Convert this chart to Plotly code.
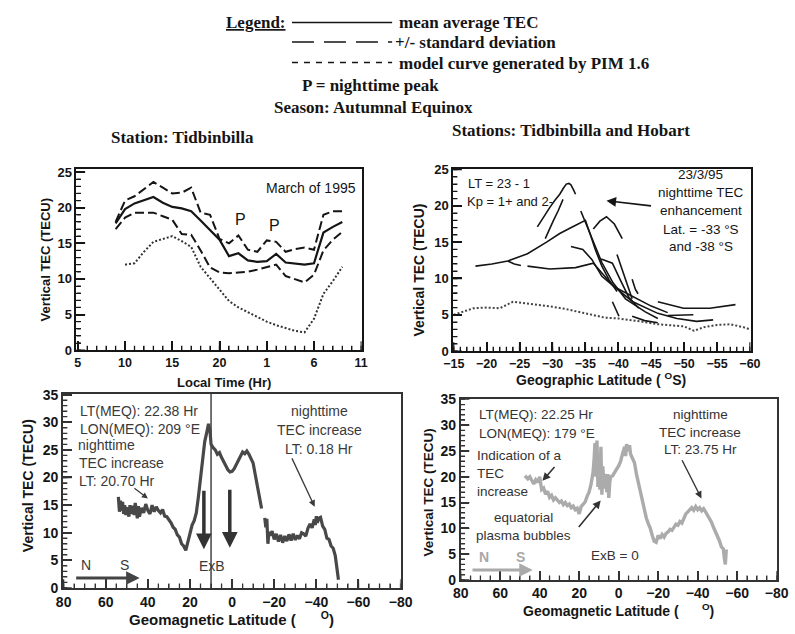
import math
import plotly.graph_objects as go

W, H = 795, 634

# ---------------- Panel 1: Tidbinbilla, March 1995 ----------------
lt_hours = list(range(9, 34))
tec_mean = [17.8, 19.8, 20.6, 21.0, 21.5, 20.7, 20.1, 19.9, 19.5, 18.2, 16.9, 15.5, 13.2,
            13.6, 12.6, 12.4, 12.5, 13.5, 12.3, 12.1, 12.0, 12.2, 16.5, 17.3, 18.0]
tec_upper = [18.0, 21.0, 21.6, 22.6, 23.6, 22.8, 22.0, 22.1, 22.8, 19.3, 19.0, 15.6, 15.0,
             16.1, 14.1, 13.8, 15.4, 15.2, 13.8, 14.2, 14.4, 14.1, 19.0, 19.5, 19.5]
tec_lower = [17.0, 18.6, 19.3, 19.3, 19.3, 18.8, 18.3, 16.3, 16.2, 14.0, 11.6, 10.9, 10.8,
             10.9, 11.0, 11.3, 11.6, 12.0, 10.4, 10.0, 9.5, 10.6, 14.0, 15.5, 16.6]
model_hours = list(range(10, 34))
tec_model = [12.0, 12.2, 13.8, 15.2, 15.6, 16.0, 15.3, 14.5, 11.7, 10.1, 8.5, 6.9,
             6.0, 5.3, 4.7, 4.0, 3.5, 3.1, 2.7, 2.5, 4.4, 7.9, 9.7, 11.7]
lt_tick_alias = {"25": "1", "30": "6", "35": "11"}

# ---------------- Panel 2: Tidbinbilla and Hobart ----------------
model2_lat = [-15, -16.5, -18, -20, -22, -24, -26, -28, -30, -32, -34, -36, -38, -40,
              -42, -44, -46, -48, -50, -51.5, -53, -55, -57, -59, -60]
model2_tec = [5.0, 5.4, 5.9, 6.0, 5.9, 6.8, 6.6, 6.3, 6.1, 5.8, 5.4, 5.0, 4.6, 4.5,
              4.3, 4.0, 3.7, 3.5, 3.4, 2.8, 3.3, 3.6, 3.7, 3.3, 3.0]
seg_lat = [
    [-27.7, -28.6, -29.6, -30.4, -31.1, -31.7, -32.1, -32.5, -32.8, -33.2, -33.5],
    [-28.9, -29.5, -30.1, -30.9, -31.6],
    [-18.3, -20.8, -23.2, -26.2, -29.1, -31.1, -33.0, -35.0, -35.7, -36.5, -37.5, -38.6, -39.8],
    [-23.2, -24.2, -25.2],
    [-26.2, -29.6, -33.5, -36.2, -39.2, -42.2, -46.0, -48.9, -51.9, -54.4],
    [-36.2, -37.2, -38.2, -39.4, -40.6],
    [-34.3, -35.5, -36.5, -37.5, -39.2, -41.1, -44.1, -46.0],
    [-32.8, -34.6, -36.0, -37.5, -39.5, -42.0, -45.0, -47.5],
    [-37.4, -39.1, -40.3, -41.6, -43.1],
    [-39.8, -40.5, -41.1, -42.1],
    [-42.1, -42.6, -43.0],
    [-46.0, -49.9, -53.9, -57.8],
    [-47.5, -51.4],
    [-42.1, -44.0, -46.0],
    [-39.1, -39.6, -40.1],
]
seg_tec = [
    [17.1, 18.4, 19.8, 20.8, 21.6, 22.5, 23.0, 23.1, 22.9, 22.2, 21.6],
    [15.5, 16.8, 17.9, 19.4, 20.9],
    [11.7, 12.0, 12.4, 13.4, 15.0, 16.2, 17.1, 18.0, 16.2, 14.0, 11.7, 9.8, 8.2],
    [12.4, 12.0, 11.8],
    [11.7, 11.3, 11.5, 12.1, 9.0, 6.8, 5.2, 4.5, 4.1, 4.3],
    [16.8, 17.9, 18.5, 17.5, 15.5],
    [19.3, 16.6, 14.4, 12.2, 9.4, 7.2, 5.4, 4.5],
    [14.4, 14.0, 12.6, 10.3, 8.8, 7.6, 6.2, 5.3],
    [12.7, 12.1, 9.8, 7.4, 5.9],
    [13.3, 11.5, 9.9, 7.2],
    [9.9, 8.5, 7.9],
    [6.8, 5.9, 5.9, 6.4],
    [4.9, 5.0],
    [4.8, 4.2, 3.9],
    [6.8, 5.8, 4.8],
]

# ---------------- Panel 3: LON(MEQ) 209 E ----------------
meq_line_lat = 10
lat3 = [54, 53.5, 53, 52.5, 52, 51.5, 51, 50.5, 50, 49, 48.5, 48, 47, 46.5, 46, 45, 44.5, 44,
        43, 42, 41, 40, 39, 38, 37, 36, 35, 34, 33, 32, 31, 30, 29, 28, 27, 26, 25, 24, 23,
        22, 21, 20, 19, 18, 17, 16, 15, 14, 13, 12, 11.2, 10.5, 10, 9, 8, 7, 6, 5, 4, 3, 2,
        1, 0, -1, -2, -3, -4, -5, -6, -7, -8, -9, -10, -11, -12, -13, -14, -14.8, -15.5, -16,
        -16.5, -17, -17.5, -18, -19, -20, -21, -22, -23, -24, -25, -26, -27, -28, -29, -30,
        -31, -32, -33, -34, -35, -36, -37, -38, -39, -39.5, -40, -40.5, -41, -42, -43, -44,
        -45, -46, -47, -48, -49, -49.5, -50, -50.5]
tec3 = [16.5, 13.8, 15.8, 14.0, 15.6, 13.4, 15.0, 13.2, 14.6, 12.9, 15.0, 13.4, 14.9, 13.2,
        15.4, 12.6, 14.8, 12.9, 14.5, 13.6, 15.2, 14.0, 13.4, 15.0, 13.8, 14.7, 14.0, 13.6,
        14.2, 13.0, 12.9, 12.4, 11.8, 11.0, 10.6, 9.6, 9.2, 8.0, 7.6, 6.8, 8.4, 9.6, 11.4,
        12.2, 13.6, 16.5, 19.5, 23.0, 26.5, 28.2, 29.7, 28.5, 26.0, 25.4, 25.0, 24.2, 24.5,
        23.6, 22.8, 22.0, 21.4, 21.0, 21.1, 21.6, 22.4, 23.2, 24.0, 24.6, 24.3, 24.8, 24.2,
        23.4, 22.6, 20.5, 18.5, 16.0, 14.4, None, 12.7, 11.0, 12.5, 8.0, 10.2, 9.5, 10.3,
        8.8, 9.8, 8.4, 9.6, 8.2, 9.4, 8.5, 9.7, 8.6, 9.8, 8.7, 9.5, 8.9, 10.0, 9.8, 9.4,
        10.8, 11.6, 10.9, 12.4, 11.4, 13.0, 11.8, 12.6, 12.8, 11.2, 10.6, 9.0, 8.8, 7.6,
        7.2, 5.8, 4.5, 3.0, 1.5]

# ---------------- Panel 4: LON(MEQ) 179 E ----------------
lat4 = [47.5, 46, 45, 44, 43, 42, 41, 40, 39, 38, 37, 36, 35, 34, 33, 32, 31, 30, 29, 28, 27,
        26, 25, 24, 23, 22, 21, 20, 19, 18, 17, 16, 15, 14, 13, 12.5, 12, 11.5, 11, 10.5, 10,
        9.5, 9, 8.5, 8, 7.5, 7, 6.5, 6, 5.5, 5, 4.5, 4, 3, 2, 1, 0, -1, -2, -3, -3.5, -4, -5,
        -5.5, -6, -7, -8, -9, -10, -11, -12, -13, -14, -15, -16, -17, -18, -19, -20, -21, -22,
        -23, -24, -25, -26, -27, -28, -29, -30, -31, -32, -33, -34, -35, -36, -37, -38, -39,
        -40, -41, -42, -43, -44, -45, -46, -47, -48, -49, -50, -51, -52, -53, -53.5, -54, -54.5]
tec4 = [20.2, 19.6, 20.0, 19.2, 18.6, 19.4, 18.9, 20.0, 17.5, 17.8, 16.6, 17.2, 16.0, 16.4,
        15.5, 15.9, 15.4, 15.0, 15.3, 14.6, 15.0, 14.4, 14.7, 14.0, 14.3, 13.6, 13.9, 12.8,
        14.2, 14.6, 15.1, 16.2, 17.0, 18.5, 20.8, 23.0, 26.5, 20.0, 27.0, 18.0, 24.0, 17.5,
        25.8, 16.5, 22.0, 17.7, 20.5, 19.6, 17.0, 20.5, 15.9, 19.0, 20.0, 20.2, 21.0, 21.5,
        22.1, 23.0, 24.5, 25.8, 24.0, 26.3, 25.0, 26.1, 24.4, 23.5, 22.7, 20.5, 18.8, 17.0,
        15.0, 13.8, 12.0, 10.9, 10.0, 8.6, 7.5, 7.3, 8.6, 8.0, 8.8, 8.3, 9.0, 9.3, 9.8, 9.6,
        10.3, 10.8, 10.6, 11.3, 11.0, 12.0, 12.8, 13.2, 13.6, 14.0, 13.5, 14.2, 13.6, 14.0,
        13.4, 13.8, 13.2, 12.6, 12.0, 11.2, 10.2, 9.4, 8.4, 7.6, 6.4, 6.0, 4.2, 3.0, 5.9]


def px(x):
    return x / W


def py(y):
    return 1 - y / H


SANS = "Liberation Sans"
SERIF = "Liberation Serif"
INK = "#151515"


def axis(domain, rng, anchor, dtick, tick0, minor_dtick, fs, lc=INK, **kw):
    d = dict(domain=domain, range=rng, anchor=anchor, showline=True, linecolor=lc,
             linewidth=1.6, mirror=True, ticks="inside", tickcolor=lc, tickwidth=1.5,
             ticklen=9, showgrid=False, zeroline=False, tickmode="linear",
             dtick=dtick, tick0=tick0, layer="above traces",
             tickfont=dict(family=SANS, size=fs, color=INK, weight="bold"),
             minor=dict(ticks="inside", dtick=minor_dtick, ticklen=4.5,
                        tickcolor=lc, tickwidth=1.2, showgrid=False))
    d.update(kw)
    return d


X1 = axis([px(68.3), px(361.7)], [4.85, 35.05], "y", 5, 5, 1, 12.5, labelalias=lt_tick_alias)
Y1 = axis([py(351), py(165)], [0, 25.45], "x", 5, 0, 1, 13)
X2 = axis([px(455.7), px(761.7)], [-14.9, -60.1], "y2", 5, -15, 1, 12.5)
Y2 = axis([py(352), py(165)], [0, 25.1], "x2", 5, 0, 1, 13)
X3 = axis([px(54.5), px(401.7)], [80.3, -80], "y3", 20, 80, 5, 14, lc="#333")
Y3 = axis([py(595), py(395.5)], [0, 35.2], "x3", 5, 0, 1, 14, lc="#333")
X4 = axis([px(463.5), px(788.5)], [80, -80], "y4", 20, 80, 5, 14, lc="#333")
Y4 = axis([py(586.7), py(401.5)], [0, 35], "x4", 5, 0, 1, 14, lc="#333")


def to_paper(cfg, v):
    d0, d1 = cfg["domain"]
    r0, r1 = cfg["range"]
    return d0 + (v - r0) / (r1 - r0) * (d1 - d0)


def tick_values(cfg, step):
    lo, hi = sorted(cfg["range"])
    t0 = cfg["tick0"]
    k = math.ceil((lo - t0) / step - 1e-9)
    out = []
    v = t0 + k * step
    while v <= hi + 1e-9:
        out.append(round(v, 6))
        v += step
    return out


def tick_marks(xc, yc, major_len=9, minor_len=4.5):
    """Inside tick marks along the bottom and left axes, placed through the axis scales."""
    xr0, xr1 = xc["range"]
    yr0, yr1 = yc["range"]
    wpx = (xc["domain"][1] - xc["domain"][0]) * W
    hpx = (yc["domain"][1] - yc["domain"][0]) * H
    xs, ys = [], []
    for step, L in ((xc["dtick"], major_len), (xc["minor"]["dtick"], minor_len)):
        dy = L / hpx * (yr1 - yr0)
        for v in tick_values(xc, step):
            xs += [v, v, None]
            ys += [yr0, yr0 + dy, None]
    for step, L in ((yc["dtick"], major_len), (yc["minor"]["dtick"], minor_len)):
        dx = L / wpx * (xr1 - xr0)
        for v in tick_values(yc, step):
            xs += [xr0, xr0 + dx, None]
            ys += [v, v, None]
    return xs, ys


fig = go.Figure()

# Panel 1 traces
fig.add_trace(go.Scatter(x=lt_hours, y=tec_upper, mode="lines", xaxis="x", yaxis="y",
                         line=dict(color=INK, width=2, dash="9px,4px")))
fig.add_trace(go.Scatter(x=lt_hours, y=tec_lower, mode="lines", xaxis="x", yaxis="y",
                         line=dict(color=INK, width=2, dash="9px,4px")))
fig.add_trace(go.Scatter(x=lt_hours, y=tec_mean, mode="lines", xaxis="x", yaxis="y",
                         line=dict(color=INK, width=2.2)))
fig.add_trace(go.Scatter(x=model_hours, y=tec_model, mode="lines", xaxis="x", yaxis="y",
                         line=dict(color="#333", width=2, dash="2px,2px")))

# Panel 2 traces
fig.add_trace(go.Scatter(x=model2_lat, y=model2_tec, mode="lines", xaxis="x2", yaxis="y2",
                         line=dict(color="#444", width=2, dash="2px,2px")))
for la, te in zip(seg_lat, seg_tec):
    fig.add_trace(go.Scatter(x=la, y=te, mode="lines", xaxis="x2", yaxis="y2",
                             line=dict(color=INK, width=1.6)))

# Panel 3 traces
fig.add_trace(go.Scatter(x=[meq_line_lat, meq_line_lat], y=list(Y3["range"]), mode="lines",
                         xaxis="x3", yaxis="y3", line=dict(color=INK, width=1.2)))
fig.add_trace(go.Scatter(x=lat3, y=tec3, mode="lines", xaxis="x3", yaxis="y3",
                         connectgaps=False, line=dict(color="#484848", width=3.2)))
# Panel 4 trace
fig.add_trace(go.Scatter(x=lat4, y=tec4, mode="lines", xaxis="x4", yaxis="y4",
                         line=dict(color="#ababab", width=3.4)))

# Inside tick marks for all four panels
for (xc, yc, xa, ya, col) in [(X1, Y1, "x", "y", INK), (X2, Y2, "x2", "y2", INK),
                              (X3, Y3, "x3", "y3", "#333"), (X4, Y4, "x4", "y4", "#333")]:
    tx, ty = tick_marks(xc, yc)
    fig.add_trace(go.Scatter(x=tx, y=ty, mode="lines", xaxis=xa, yaxis=ya,
                             hoverinfo="skip", cliponaxis=False,
                             line=dict(color=col, width=1.3)))

fig.update_layout(
    width=W, height=H, margin=dict(l=0, r=0, t=0, b=0),
    paper_bgcolor="white", plot_bgcolor="white", showlegend=False,
    xaxis=X1, yaxis=Y1, xaxis2=X2, yaxis2=Y2, xaxis3=X3, yaxis3=Y3, xaxis4=X4, yaxis4=Y4,
)

ann = []


def text(x, y, s, size=14, family=SANS, color=INK, anchor="center", bold=False, angle=0):
    ann.append(dict(x=px(x), y=py(y), xref="paper", yref="paper", text=s, showarrow=False,
                    xanchor=anchor, yanchor="middle", textangle=angle,
                    font=dict(family=family, size=size, color=color,
                              weight="bold" if bold else "normal")))


def arrow(xc, yc, tail, head, width=1.2, color=INK, size=1.0):
    hx, hy = to_paper(xc, head[0]), to_paper(yc, head[1])
    tx, ty = to_paper(xc, tail[0]), to_paper(yc, tail[1])
    ann.append(dict(x=hx, y=hy, xref="paper", yref="paper",
                    ax=(tx - hx) * W, ay=-(ty - hy) * H, text="", showarrow=True,
                    arrowhead=2, arrowsize=size, arrowwidth=width, arrowcolor=color))


# Header
text(253.5, 15, "<u>Legend:</u>", 17, SERIF, bold=True)
text(398, 15, "mean average TEC", 17, SERIF, anchor="left", bold=True)
text(394, 35, "+/- standard deviation", 17, SERIF, anchor="left", bold=True)
text(398, 57, "model curve generated by PIM 1.6", 17, SERIF, anchor="left", bold=True)
text(371, 80, "P = nighttime peak", 17, SERIF, bold=True)
text(374, 102, "Season: Autumnal Equinox", 17, SERIF, bold=True)
text(177, 133, "Station: Tidbinbilla", 17, SERIF, bold=True)
text(577, 126, "Stations: Tidbinbilla and Hobart", 17, SERIF, bold=True)

shapes = [
    dict(type="line", xref="paper", yref="paper", x0=px(290), x1=px(393), y0=py(15), y1=py(15),
         line=dict(color=INK, width=1.5)),
    dict(type="line", xref="paper", yref="paper", x0=px(290), x1=px(393), y0=py(35), y1=py(35),
         line=dict(color=INK, width=1.5, dash="22px,10px")),
    dict(type="line", xref="paper", yref="paper", x0=px(290), x1=px(393), y0=py(56), y1=py(56),
         line=dict(color=INK, width=1.5, dash="6px,6px")),
]

# Panel 1 labels
text(310, 185, "March of 1995", 14)
text(237, 217, "P", 16)
text(272, 223, "P", 16)
text(220, 384, "Local Time (Hr)", 13, bold=True)
text(37, 258, "Vertical TEC (TECU)", 13, bold=True, angle=-90)

# Panel 2 labels
text(469, 180, "LT = 23 - 1", 13, anchor="left")
text(468, 198, "Kp = 1+ and 2-", 13, anchor="left")
text(710, 171, "23/3/95", 13.5)
text(711, 189, "nighttime TEC", 13.5)
text(711, 208, "enhancement", 13.5)
text(711, 227, "Lat. = -33 °S", 13.5)
text(711, 245, "and -38 °S", 13.5)
arrow(X2, Y2, (-45.0, 20.0), (-38.2, 20.7), width=1.6, size=1.2)
text(608, 381, "Geographic Latitude ( <sup>O</sup>S)", 14, bold=True)
text(421, 269, "Vertical TEC (TECU)", 14, bold=True, angle=-90)

# Panel 3 labels
G3 = "#3a3a3a"
text(70, 413, "LT(MEQ): 22.38 Hr", 14, color=G3, anchor="left")
text(70, 432, "LON(MEQ): 209 °E", 14, color=G3, anchor="left")
text(68, 448, "nighttime", 14, color=G3, anchor="left")
text(69, 467, "TEC increase", 14, color=G3, anchor="left")
text(69, 485, "LT: 20.70 Hr", 14, color=G3, anchor="left")
text(318, 413, "nighttime", 14, color=G3)
text(318, 433, "TEC increase", 14, color=G3)
text(318, 452, "LT: 0.18 Hr", 14, color=G3)
text(78, 571, "N", 14, color=G3)
text(118, 571, "S", 14, color=G3)
text(208, 572, "ExB", 14, color=G3)
arrow(X3, Y3, (46.9, 18.2), (40.0, 16.2), width=1.2, color=G3)
arrow(X3, Y3, (-28.4, 23.5), (-39.2, 14.7), width=1.3, color=G3)
arrow(X3, Y3, (13.4, 17.6), (13.4, 7.0), width=3.5, color="#333", size=0.9)
arrow(X3, Y3, (1.1, 17.8), (1.1, 7.3), width=3.5, color="#333", size=0.9)
arrow(X3, Y3, (73.9, 1.8), (43.9, 1.8), width=3, color="#444", size=0.9)
text(228, 626, "Geomagnetic Latitude (      <sup>O</sup>)", 15, bold=True)
text(18, 490, "Vertical TEC (TECU)", 14, bold=True, angle=-90)

# Panel 4 labels
G4 = "#333"
text(480, 417, "LT(MEQ): 22.25 Hr", 13.5, color=G4, anchor="left")
text(480, 437, "LON(MEQ): 179 °E", 13.5, color=G4, anchor="left")
text(478, 459, "Indication of a", 13.5, color=G4, anchor="left")
text(478, 478, "TEC", 13.5, color=G4, anchor="left")
text(478, 496, "increase", 13.5, color=G4, anchor="left")
text(528, 523, "equatorial", 13.5, color=G4)
text(528, 541, "plasma bubbles", 13.5, color=G4)
text(622, 562, "ExB = 0", 13.5, color=G4)
text(710, 417, "nighttime", 13.5, color=G4)
text(710, 435, "TEC increase", 13.5, color=G4)
text(710, 453, "LT: 23.75 Hr", 13.5, color=G4)
text(487, 563, "N", 14, color="#a8a8a8", bold=True)
text(525, 563, "S", 14, color="#a8a8a8", bold=True)
arrow(X4, Y4, (32.0, 22.1), (38.6, 19.2), width=1.6, color=G4)
arrow(X4, Y4, (20.5, 10.1), (9.1, 15.4), width=1.6, color=G4)
arrow(X4, Y4, (-32.0, 23.3), (-41.9, 15.8), width=1.4, color=G4)
arrow(X4, Y4, (73.9, 1.9), (43.5, 1.9), width=3, color="#aaaaaa", size=0.9)
text(626, 618, "Geomagnetic Latitude (      <sup>O</sup>)", 14, bold=True)
text(430, 497, "Vertical TEC (TECU)", 13.5, bold=True, angle=-90)

fig.update_layout(annotations=ann, shapes=shapes)
fig.write_html("out.html")
